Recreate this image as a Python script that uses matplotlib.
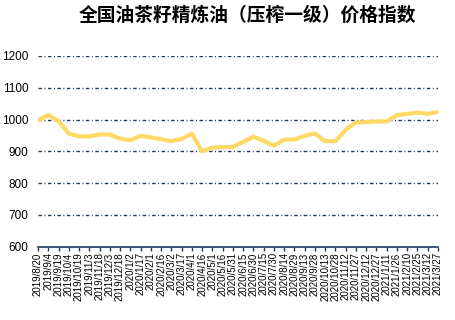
import matplotlib
matplotlib.use("Agg")
import matplotlib.pyplot as plt

# dates (every 15 days) and index values
dates = ["2019/8/20", "2019/9/4", "2019/9/19", "2019/10/4", "2019/10/19",
         "2019/11/3", "2019/11/18", "2019/12/3", "2019/12/18", "2020/1/2",
         "2020/1/17", "2020/2/1", "2020/2/16", "2020/3/2", "2020/3/17",
         "2020/4/1", "2020/4/16", "2020/5/1", "2020/5/16", "2020/5/31",
         "2020/6/15", "2020/6/30", "2020/7/15", "2020/7/30", "2020/8/14",
         "2020/8/29", "2020/9/13", "2020/9/28", "2020/10/13", "2020/10/28",
         "2020/11/12", "2020/11/27", "2020/12/12", "2020/12/27", "2021/1/11",
         "2021/1/26", "2021/2/10", "2021/2/25", "2021/3/12", "2021/3/27"]
values = [998, 1014, 995, 956, 947, 947, 953, 953, 940, 935,
          949, 944, 938, 932, 939, 956, 900, 912, 913, 914,
          930, 946, 933, 918, 937, 937, 949, 956, 932, 932,
          968, 991, 992, 994, 994, 1014, 1018, 1022, 1018, 1024]
yticks = [600, 700, 800, 900, 1000, 1100, 1200]

title = "全国油茶籽精炼油（压榨一级）价格指数"
navy = "#1F3864"
yellow = "#FFD966"

plt.rcParams['lines.scale_dashes'] = False
fig = plt.figure(figsize=(4.55, 3.2), dpi=100)
ax = fig.add_axes([38/455, 1-246.7/320, 400/455, (246.7-56)/320])

x = list(range(len(dates)))
ax.plot(x, values, color=yellow, linewidth=3, solid_joinstyle='round', zorder=3)

ax.set_xlim(0, len(dates)-1)
ax.set_ylim(600, 1200)
ax.set_yticks(yticks)
ax.set_yticklabels([str(v) for v in yticks], family='Liberation Sans', fontsize=8.5)
for v in yticks[1:]:
    ax.axhline(v, color=navy, linewidth=1, dashes=(2.5, 1.8, 0.72, 1.8), zorder=1)

ax.set_xticks(x)
ax.set_xticklabels(dates, rotation=90, family='Liberation Sans', fontsize=7)
ax.tick_params(axis='y', length=0, pad=7)
ax.tick_params(axis='x', length=3, width=1, color=navy, pad=1)

for s in ['top', 'right', 'left']:
    ax.spines[s].set_visible(False)
ax.spines['bottom'].set_color(navy)
ax.spines['bottom'].set_linewidth(1.2)

fig.text(0.543, 0.953, title, ha='center', va='center', fontsize=13.5,
         fontweight='bold', family=['Noto Sans CJK SC', 'DejaVu Sans'])

fig.savefig("out.png", dpi=100)
